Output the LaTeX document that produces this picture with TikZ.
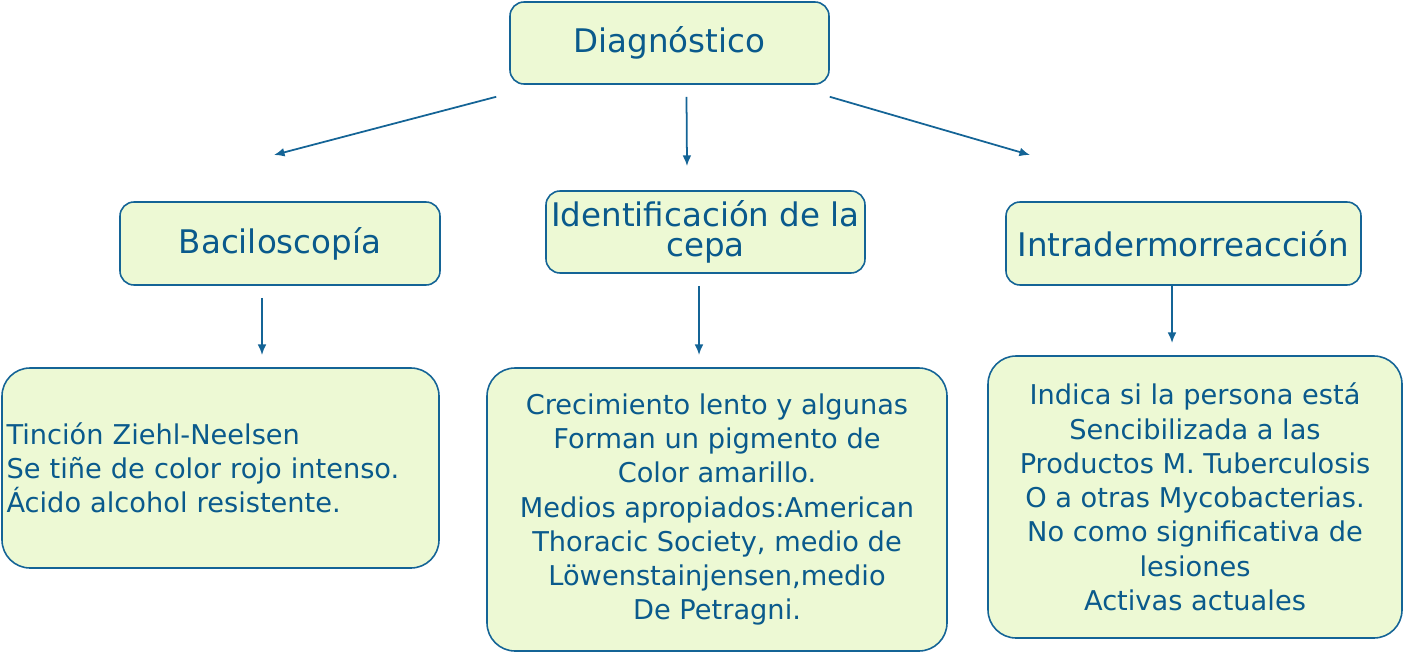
\documentclass[tikz,border=0pt]{standalone}
\usepackage{fontspec}
\setmainfont{DejaVu Sans}
\usetikzlibrary{arrows.meta}
\definecolor{boxline}{RGB}{20,100,150}
\definecolor{boxfill}{RGB}{237,249,212}
\definecolor{boxtext}{RGB}{10,90,140}

\begin{document}
\begin{tikzpicture}[x=0.02cm,y=-0.02cm,
    box/.style={draw=boxline, fill=boxfill, text=boxtext, rounded corners=8pt,
        line width=0.9pt, inner sep=2pt, align=center},
    head/.style={box, font=\fontsize{18.5}{20}\selectfont},
    body/.style={box, rounded corners=16pt, font=\fontsize{15.5}{19.5}\selectfont},
    link/.style={boxline, line width=1pt, -{Latex[length=6pt,width=5pt]}}]

\useasboundingbox (0,0) rectangle (1403,652);

% Heading boxes
\node[head, minimum width=319*0.02cm, minimum height=82*0.02cm] (Diag) at (669.5,43) {Diagnóstico};
\node[head, minimum width=320*0.02cm, minimum height=83*0.02cm] (Bacil) at (280,243.5) {Baciloscopía};
\node[head, minimum width=319*0.02cm, minimum height=82*0.02cm, font=\fontsize{18.5}{17}\selectfont] (Ident) at (705.5,232) {Identificación de la\\cepa};
\node[head, minimum width=355*0.02cm, minimum height=83*0.02cm] (Intra) at (1183.5,243.5) {Intradermorreacción};

% Detail boxes
\node[body, minimum width=437*0.02cm, minimum height=200*0.02cm, align=left, text width=428*0.02cm] (Tinc) at (220.5,468) {Tinción Ziehl-Neelsen\\Se tiñe de color rojo intenso.\\Ácido alcohol resistente.};
\node[body, minimum width=460*0.02cm, minimum height=283*0.02cm] (Crec) at (717,509.5) {Crecimiento lento y algunas\\Forman un pigmento de\\Color amarillo.\\Medios apropiados:American\\Thoracic Society, medio de\\Löwenstainjensen,medio\\De Petragni.};
\node[body, minimum width=414*0.02cm, minimum height=282*0.02cm] (Indic) at (1195,497) {Indica si la persona está\\Sencibilizada a las\\Productos M. Tuberculosis\\O a otras Mycobacterias.\\No como significativa de\\lesiones\\Activas actuales};

% Free arrow ends
\coordinate (A1) at (274,155);
\coordinate (A2) at (687,166);
\coordinate (A3) at (1030,155);
\coordinate (B1) at (262,355);
\coordinate (B2) at (699,355);
\coordinate (B3) at (1172,343);

% Connectors
\draw[link] (Diag.south west) ++(-13,12) -- (A1);
\draw[link] (Diag.south) ++(17,12) -- (A2);
\draw[link] (Diag.south east) ++(0,12) -- (A3);
\draw[link] (Bacil.south) ++(-18,12) -- (B1);
\draw[link] (Ident.south) ++(-6.5,12) -- (B2);
\draw[link] (Intra.south) ++(-11.5,0) -- (B3);

\end{tikzpicture}
\end{document}
